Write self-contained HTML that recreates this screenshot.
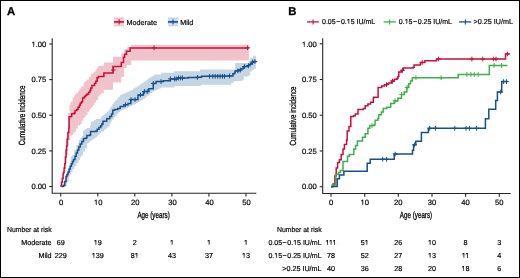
<!DOCTYPE html>
<html><head><meta charset="utf-8"><style>
html,body{margin:0;padding:0;background:#fff;}
svg{display:block;will-change:transform;} text{text-rendering:geometricPrecision;}
.t{font-family:'Liberation Sans',sans-serif;font-size:7.2px;fill:#000;stroke:#000;stroke-width:0.18px;}
.k{font-family:'Liberation Sans',sans-serif;font-size:7.6px;fill:#000;stroke:#000;stroke-width:0.2px;}
.c{font-family:'Liberation Sans',sans-serif;font-size:9px;fill:#000;stroke:#000;stroke-width:0.3px;}
.b{font-family:'Liberation Sans',sans-serif;font-size:11.3px;font-weight:bold;fill:#000;stroke:#000;stroke-width:0.3px;}
</style></head><body>
<svg width="520" height="278" viewBox="0 0 520 278">
<rect x="0.5" y="0.5" width="519" height="277" fill="none" stroke="#000" stroke-width="1"/>
<path d="M61.5,186.5H62.3V184.0H63.3V181.4H64.6V176.6H65.5V174.5H66.6V172.0H67.7V169.0H68.8V166.3H69.9V163.7H70.2V161.5H70.6V159.4H70.8V156.2H72.0V155.2H74.2V150.1H76.3V145.1H78.6V140.1H80.3V138.1H82.1V136.0H83.1V132.0H83.1V130.6H84.8V129.3H86.5V128.0H90.0V125.5H90.8V122.0H92.5V121.0H94.3V120.0H96.0V119.0H101.1V116.5H102.8V115.0H104.5V113.5H106.5V111.6H108.6V109.7H109.9V107.8H111.2V105.8H112.4V103.9H113.7V102.0H115.4V100.2H117.1V98.4H118.5V96.7H120.0V95.0H122.2V94.0H124.3V93.0H126.5V92.0H128.6V91.0H130.8V90.0H133.0V88.6H135.1V87.2H137.3V85.8H139.4V84.4H141.6V83.0H143.6V81.6H145.6V80.2H147.5V78.8H149.5V77.4H151.5V76.0H154.2V74.5H161.3V72.8H173.9V71.2H200.0V69.5H235.1V68.7H235.1V62.9H248.7V60.8H250.2V57.9H253.1V55.8H255.9V55.0L255.9,65.1V68.7H253.8V70.2H252.0V71.6H250.2V75.2H248.7V76.6H243.7V80.2H242.3V81.0H235.3V81.0H233.6V82.7H233.6V82.7H231.2V84.8H231.2V84.8H201.0V86.1H201.0V86.1H174.7V87.4H161.4V88.2H159.6V89.0H157.8V89.9H156.0V90.7H154.2V91.5H152.4V92.9H150.6V94.4H148.8V95.8H147.0V97.3H145.2V98.7H143.4V99.8H141.6V100.8H139.8V101.9H138.0V102.9H136.2V104.0H134.4V105.1H132.3V106.1H130.1V107.2H128.0V108.0H126.0V108.8H124.0V109.7H122.0V110.5H120.0V112.3H118.4V114.1H116.8V115.8H115.1V117.6H113.5V119.4H111.9V121.6H110.8V123.7H109.7V125.9H108.6V127.2H107.1V128.4H105.5V129.7H104.0V131.5H101.2V132.9H99.8V134.3H98.4V135.8H97.0V137.2H95.5V138.6H93.5V140.0H91.5V141.2H90.0V142.3H88.5V143.5H87.0V148.0H85.0V151.5H83.0V155.2H81.3V157.5H80.0V160.0H78.5V163.0H76.5V166.3H74.5V169.0H72.6V172.0H71.3V174.5H70.0V176.6H68.8V181.4H67.5V183.0H66.5V186.6H64.5Z" fill="#C6D5E3"/>
<path d="M60.7,186.5H61.0V184.0H62.0V178.0H63.0V172.0H64.2V166.0H64.8V158.0H65.5V150.0H66.5V141.0H67.5V132.0H68.2V124.0H68.2V113.0H69.5V105.2H70.4V101.7H72.6V97.8H73.6V96.3H74.7V94.7H75.7V93.2H78.0V91.0H79.5V88.6H81.3V86.5H83.7V82.6H85.2V81.0H86.7V79.5H88.9V77.0H91.0V73.9H92.8V72.6H94.5V71.3H95.8V69.4H97.1V67.6H98.4V65.7H103.9V64.0H103.9V62.5H113.0V62.5H113.0V56.8H121.2V56.8H121.2V53.8H124.2V53.8H124.2V49.1H127.2V49.1H127.2V46.9H131.1V46.9H131.1V44.7H248.9V44.7L248.9,60.3V60.6H131.2V65.0H131.2V65.0H126.8V68.3H126.8V68.3H124.0V77.0H123.7V77.0H121.2V82.6H121.2V82.6H113.0V88.0H113.0V89.7H112.8V89.7H103.7V93.2H103.7V93.2H100.7V94.9H99.4V96.6H98.1V100.0H96.0V102.6H94.5V105.2H92.8V106.9H91.5V108.6H90.2V110.3H88.9V112.1H87.6V114.7H85.9V116.4H84.6V118.1H83.3V120.7H81.6V124.0H79.9V125.5H77.9V128.5H76.1V131.5H74.4V133.2H73.1V135.0H71.8V135.8H70.1V140.0H69.0V146.0H68.0V155.0H66.5V163.0H65.5V172.0H64.0V180.0H62.5V186.5H61.5Z" fill="#F0C3CB"/>
<path d="M62.0,186.6H63.4V186.6H63.4V185.5H64.8V181.4H66.1V176.6H67.0V174.5H68.1V172.0H69.2V169.0H70.3V166.3H71.4V163.7H72.5V161.5H73.5V159.4H75.0V156.2H76.2V153.1H77.5V150.1H78.8V147.1H80.2V144.1H81.8V141.6H83.5V138.4H86.3V137.8H86.9V135.5H89.7V134.9H90.6V131.5H96.1V130.9H97.2V129.2H98.9V127.4H100.7V125.7H101.8V124.0H103.0V121.3H106.7V118.8H109.7V116.4H111.6V113.9H112.8V110.2H114.6V109.6H117.7V108.4H120.2V106.6H123.8V104.7H128.0V103.5H130.8V99.6H138.0V95.0H143.4V91.5H148.8V88.8H153.3V83.4H156.0V81.6H163.2V80.7H170.4V78.9H177.6V78.0H188.3V77.4H198.0V77.2H201.5V76.3H225.0V75.9H232.2V75.9H232.9V73.7H234.4V73.0H235.1V70.9H238.0V70.1H239.4V70.1H240.8V68.7H243.0V68.0H244.4V66.5H247.3V65.8H248.7V64.4H250.9V63.7H252.3V62.2H253.8V61.5H256.7V61.5" fill="none" stroke="#16508A" stroke-width="1.5"/>
<path d="M60.7,186.6H61.0V185.8H61.5V182.3H62.3V178.3H63.1V174.3H63.4V172.5H64.1V168.0H64.8V163.6H65.4V157.0H66.1V150.0H66.5V146.0H67.1V139.3H67.9V132.4H68.8V128.0H69.1V122.0H69.1V116.8H70.8V116.4H71.7V113.8H74.2V113.0H75.1V110.4H76.8V109.5H78.1V107.3H79.4V105.2H80.3V103.0H81.6V101.7H82.6V97.9H84.3V96.6H85.6V95.3H86.9V94.0H88.6V92.3H89.9V90.6H90.8V88.0H91.9V85.6H94.5V83.4H95.8V81.3H97.1V77.8H98.4V76.5H103.5V76.5H103.9V73.1H113.0V72.6H113.0V66.4H121.2V66.2H121.3V62.4H123.5V62.4H123.5V57.3H124.6V57.3H124.6V54.2H126.5V54.2H126.5V51.3H130.1V51.3H130.1V48.1H248.9V48.1" fill="none" stroke="#C6103A" stroke-width="1.5"/>
<path d="M125.5,102.3V107.1M123.1,104.7H127.9" stroke="#16508A" stroke-width="1.0" fill="none"/><path d="M131.0,97.2V102.0M128.6,99.6H133.4" stroke="#16508A" stroke-width="1.0" fill="none"/><path d="M135.0,97.2V102.0M132.6,99.6H137.4" stroke="#16508A" stroke-width="1.0" fill="none"/><path d="M140.5,92.6V97.4M138.1,95.0H142.9" stroke="#16508A" stroke-width="1.0" fill="none"/><path d="M144.6,89.1V93.9M142.2,91.5H147.0" stroke="#16508A" stroke-width="1.0" fill="none"/><path d="M147.3,89.1V93.9M144.9,91.5H149.7" stroke="#16508A" stroke-width="1.0" fill="none"/><path d="M153.3,81.0V85.8M150.9,83.4H155.7" stroke="#16508A" stroke-width="1.0" fill="none"/><path d="M161.0,79.2V84.0M158.6,81.6H163.4" stroke="#16508A" stroke-width="1.0" fill="none"/><path d="M170.4,76.5V81.3M168.0,78.9H172.8" stroke="#16508A" stroke-width="1.0" fill="none"/><path d="M174.6,76.5V81.3M172.2,78.9H177.0" stroke="#16508A" stroke-width="1.0" fill="none"/><path d="M176.2,76.5V81.3M173.8,78.9H178.6" stroke="#16508A" stroke-width="1.0" fill="none"/><path d="M178.5,75.6V80.4M176.1,78.0H180.9" stroke="#16508A" stroke-width="1.0" fill="none"/><path d="M180.7,75.6V80.4M178.3,78.0H183.1" stroke="#16508A" stroke-width="1.0" fill="none"/><path d="M182.5,75.6V80.4M180.1,78.0H184.9" stroke="#16508A" stroke-width="1.0" fill="none"/><path d="M197.4,75.0V79.8M195.0,77.4H199.8" stroke="#16508A" stroke-width="1.0" fill="none"/><path d="M209.6,73.9V78.7M207.2,76.3H212.0" stroke="#16508A" stroke-width="1.0" fill="none"/><path d="M212.8,73.9V78.7M210.4,76.3H215.2" stroke="#16508A" stroke-width="1.0" fill="none"/><path d="M215.2,73.9V78.7M212.8,76.3H217.6" stroke="#16508A" stroke-width="1.0" fill="none"/><path d="M217.7,73.9V78.7M215.3,76.3H220.1" stroke="#16508A" stroke-width="1.0" fill="none"/><path d="M220.1,73.9V78.7M217.7,76.3H222.5" stroke="#16508A" stroke-width="1.0" fill="none"/><path d="M222.5,73.9V78.7M220.1,76.3H224.9" stroke="#16508A" stroke-width="1.0" fill="none"/><path d="M224.5,73.9V78.7M222.1,76.3H226.9" stroke="#16508A" stroke-width="1.0" fill="none"/><path d="M229.5,73.5V78.3M227.1,75.9H231.9" stroke="#16508A" stroke-width="1.0" fill="none"/><path d="M237.9,68.5V73.3M235.5,70.9H240.3" stroke="#16508A" stroke-width="1.0" fill="none"/><path d="M240.3,67.7V72.5M237.9,70.1H242.7" stroke="#16508A" stroke-width="1.0" fill="none"/><path d="M244.4,64.1V68.9M242.0,66.5H246.8" stroke="#16508A" stroke-width="1.0" fill="none"/><path d="M248.4,63.4V68.2M246.0,65.8H250.8" stroke="#16508A" stroke-width="1.0" fill="none"/><path d="M252.4,59.8V64.6M250.0,62.2H254.8" stroke="#16508A" stroke-width="1.0" fill="none"/><path d="M254.9,59.1V63.9M252.5,61.5H257.3" stroke="#16508A" stroke-width="1.0" fill="none"/>
<path d="M154.1,45.4V50.2M151.7,47.8H156.5" stroke="#C6103A" stroke-width="1.0" fill="none"/><path d="M247.6,45.4V50.2M245.2,47.8H250.0" stroke="#C6103A" stroke-width="1.0" fill="none"/><path d="M113.4,67.6V72.4M111.0,70.0H115.8" stroke="#C6103A" stroke-width="1.0" fill="none"/>
<path d="M331.0,186.7H333.1V186.7H333.1V184.1H334.9V176.0H336.2V167.9H337.6V162.5H339.4V159.8H341.2V154.4H343.0V149.0H344.4V144.5H346.6V140.0H347.2V131.0H349.0V126.5H350.8V116.6H353.5V115.7H355.3V113.9H358.0V109.4H363.4V108.5H365.2V105.8H367.9V104.0H370.6V102.2H373.3V98.6H373.6V97.3H378.1V97.3H378.1V87.4H381.7V85.9H384.4V84.7H387.1V83.8H388.9V82.9H391.6V81.1H394.3V79.3H397.0V78.4H397.9V76.6H398.8V72.1H401.5V70.3H403.3V68.0H413.2V67.2H414.1V64.9H420.4V63.5H420.4V62.4H424.9V62.4H424.9V60.8H436.6V60.8H436.6V59.0H505.5V59.0H505.5V53.9H509.5V53.9" fill="none" stroke="#C6103A" stroke-width="1.5"/>
<path d="M331.0,186.7H332.2V186.7H332.2V185.0H335.8V183.2H335.8V174.2H338.5V172.4H340.3V170.6H343.0V167.0H343.0V161.6H347.5V161.6H347.5V156.2H349.3V156.2H349.3V154.4H353.8V154.4H353.8V149.0H355.6V149.0H355.6V145.4H357.4V145.4H357.4V140.9H362.5V140.9H362.5V137.3H365.2V133.7H367.9V128.3H369.7V125.6H374.2V124.7H375.1V120.2H377.8V118.4H378.7V114.8H381.4V112.1H383.2V108.5H386.8V107.2H390.5V107.2H390.7V103.6H394.3V100.9H397.9V98.2H401.5V94.6H404.2V91.9H406.9V87.4H408.7V83.8H410.5V81.1H412.3V77.7H458.2V77.7H458.2V74.5H489.3V74.5H489.3V65.4H507.5V65.4" fill="none" stroke="#3DB04B" stroke-width="1.5"/>
<path d="M331.3,186.6H337.2V186.6H337.2V178.7H339.4V178.7H339.4V175.1H343.9V175.1H343.9V171.3H367.2V171.3H367.2V163.3H370.2V163.3H370.2V159.3H394.2V159.3H394.2V154.1H412.5V154.1H412.5V150.2H413.6V150.2H413.6V144.8H415.8V144.8H415.8V141.2H421.4V141.2H421.4V132.4H428.4V132.4H428.4V128.3H485.4V128.3H485.4V118.7H488.8V118.7H488.8V109.2H495.7V109.2H495.7V100.4H497.4V100.4H497.4V92.0H501.7V92.0H501.7V81.6H507.5V81.6" fill="none" stroke="#16508A" stroke-width="1.5"/>
<path d="M422.2,60.0V64.8M419.8,62.4H424.6" stroke="#C6103A" stroke-width="1.0" fill="none"/><path d="M438.4,56.6V61.4M436.0,59.0H440.8" stroke="#C6103A" stroke-width="1.0" fill="none"/><path d="M471.9,56.6V61.4M469.5,59.0H474.3" stroke="#C6103A" stroke-width="1.0" fill="none"/><path d="M482.8,56.6V61.4M480.4,59.0H485.2" stroke="#C6103A" stroke-width="1.0" fill="none"/><path d="M493.7,56.6V61.4M491.3,59.0H496.1" stroke="#C6103A" stroke-width="1.0" fill="none"/><path d="M496.0,56.6V61.4M493.6,59.0H498.4" stroke="#C6103A" stroke-width="1.0" fill="none"/><path d="M507.5,51.5V56.3M505.1,53.9H509.9" stroke="#C6103A" stroke-width="1.0" fill="none"/><path d="M386.5,82.3V87.1M384.1,84.7H388.9" stroke="#C6103A" stroke-width="1.0" fill="none"/><path d="M392.5,78.7V83.5M390.1,81.1H394.9" stroke="#C6103A" stroke-width="1.0" fill="none"/><path d="M402.5,67.9V72.7M400.1,70.3H404.9" stroke="#C6103A" stroke-width="1.0" fill="none"/>
<path d="M415.9,75.3V80.1M413.5,77.7H418.3" stroke="#3DB04B" stroke-width="1.0" fill="none"/><path d="M441.1,75.3V80.1M438.7,77.7H443.5" stroke="#3DB04B" stroke-width="1.0" fill="none"/><path d="M466.9,72.1V76.9M464.5,74.5H469.3" stroke="#3DB04B" stroke-width="1.0" fill="none"/><path d="M470.9,72.1V76.9M468.5,74.5H473.3" stroke="#3DB04B" stroke-width="1.0" fill="none"/><path d="M474.3,72.1V76.9M471.9,74.5H476.7" stroke="#3DB04B" stroke-width="1.0" fill="none"/><path d="M478.2,72.1V76.9M475.8,74.5H480.6" stroke="#3DB04B" stroke-width="1.0" fill="none"/><path d="M494.0,63.0V67.8M491.6,65.4H496.4" stroke="#3DB04B" stroke-width="1.0" fill="none"/><path d="M501.6,63.0V67.8M499.2,65.4H504.0" stroke="#3DB04B" stroke-width="1.0" fill="none"/><path d="M395.0,98.5V103.3M392.6,100.9H397.4" stroke="#3DB04B" stroke-width="1.0" fill="none"/><path d="M401.5,92.2V97.0M399.1,94.6H403.9" stroke="#3DB04B" stroke-width="1.0" fill="none"/><path d="M407.0,85.0V89.8M404.6,87.4H409.4" stroke="#3DB04B" stroke-width="1.0" fill="none"/><path d="M372.0,123.2V128.0M369.6,125.6H374.4" stroke="#3DB04B" stroke-width="1.0" fill="none"/>
<path d="M382.7,156.9V161.7M380.3,159.3H385.1" stroke="#16508A" stroke-width="1.0" fill="none"/><path d="M386.6,156.9V161.7M384.2,159.3H389.0" stroke="#16508A" stroke-width="1.0" fill="none"/><path d="M395.2,151.7V156.5M392.8,154.1H397.6" stroke="#16508A" stroke-width="1.0" fill="none"/><path d="M414.6,142.4V147.2M412.2,144.8H417.0" stroke="#16508A" stroke-width="1.0" fill="none"/><path d="M429.7,125.9V130.7M427.3,128.3H432.1" stroke="#16508A" stroke-width="1.0" fill="none"/><path d="M435.4,125.9V130.7M433.0,128.3H437.8" stroke="#16508A" stroke-width="1.0" fill="none"/><path d="M454.8,125.9V130.7M452.4,128.3H457.2" stroke="#16508A" stroke-width="1.0" fill="none"/><path d="M466.1,125.9V130.7M463.7,128.3H468.5" stroke="#16508A" stroke-width="1.0" fill="none"/><path d="M469.4,125.9V130.7M467.0,128.3H471.8" stroke="#16508A" stroke-width="1.0" fill="none"/><path d="M476.6,125.9V130.7M474.2,128.3H479.0" stroke="#16508A" stroke-width="1.0" fill="none"/><path d="M500.7,89.6V94.4M498.3,92.0H503.1" stroke="#16508A" stroke-width="1.0" fill="none"/><path d="M503.6,79.2V84.0M501.2,81.6H506.0" stroke="#16508A" stroke-width="1.0" fill="none"/><path d="M506.5,79.2V84.0M504.1,81.6H508.9" stroke="#16508A" stroke-width="1.0" fill="none"/>
<path d="M52.2,38.2 V193.3 H256.3" fill="none" stroke="#262626" stroke-width="1.1"/>
<line x1="49.2" y1="44.0" x2="52.2" y2="44.0" stroke="#262626" stroke-width="1.1"/>
<text x="46.2" y="46.8" text-anchor="end" class="k">1.00</text>
<line x1="49.2" y1="79.6" x2="52.2" y2="79.6" stroke="#262626" stroke-width="1.1"/>
<text x="46.2" y="82.4" text-anchor="end" class="k">0.75</text>
<line x1="49.2" y1="115.2" x2="52.2" y2="115.2" stroke="#262626" stroke-width="1.1"/>
<text x="46.2" y="118.0" text-anchor="end" class="k">0.50</text>
<line x1="49.2" y1="150.9" x2="52.2" y2="150.9" stroke="#262626" stroke-width="1.1"/>
<text x="46.2" y="153.6" text-anchor="end" class="k">0.25</text>
<line x1="49.2" y1="186.5" x2="52.2" y2="186.5" stroke="#262626" stroke-width="1.1"/>
<text x="46.2" y="189.2" text-anchor="end" class="k">0.00</text>
<line x1="60.7" y1="193.3" x2="60.7" y2="196.5" stroke="#262626" stroke-width="1.1"/>
<text x="61.2" y="205.3" text-anchor="middle" class="k">0</text>
<line x1="97.8" y1="193.3" x2="97.8" y2="196.5" stroke="#262626" stroke-width="1.1"/>
<text x="98.3" y="205.3" text-anchor="middle" class="k">10</text>
<line x1="134.8" y1="193.3" x2="134.8" y2="196.5" stroke="#262626" stroke-width="1.1"/>
<text x="135.3" y="205.3" text-anchor="middle" class="k">20</text>
<line x1="171.9" y1="193.3" x2="171.9" y2="196.5" stroke="#262626" stroke-width="1.1"/>
<text x="172.4" y="205.3" text-anchor="middle" class="k">30</text>
<line x1="208.9" y1="193.3" x2="208.9" y2="196.5" stroke="#262626" stroke-width="1.1"/>
<text x="209.4" y="205.3" text-anchor="middle" class="k">40</text>
<line x1="246.0" y1="193.3" x2="246.0" y2="196.5" stroke="#262626" stroke-width="1.1"/>
<text x="246.5" y="205.3" text-anchor="middle" class="k">50</text>
<text x="153.6" y="217.8" text-anchor="middle" class="c" textLength="32.4" lengthAdjust="spacingAndGlyphs">Age (years)</text>
<text transform="translate(25.2,115.4) rotate(-90)" text-anchor="middle" class="c" textLength="59.8" lengthAdjust="spacingAndGlyphs">Cumulative incidence</text>
<text x="7.1" y="14.7" class="b">A</text>
<rect x="113.9" y="17.5" width="10.1" height="8.8" fill="#F0C3CB"/>
<rect x="113.9" y="19.0" width="10.1" height="0.8" fill="#fff" opacity="0.45"/><rect x="113.9" y="23.9" width="10.1" height="0.8" fill="#fff" opacity="0.45"/>
<line x1="113.9" y1="21.9" x2="124" y2="21.9" stroke="#C6103A" stroke-width="1.6"/>
<line x1="119.2" y1="19.2" x2="119.2" y2="24.6" stroke="#C6103A" stroke-width="1.1"/>
<text x="126.6" y="24.6" class="t">Moderate</text>
<rect x="167.9" y="17.5" width="10.1" height="8.8" fill="#C6D5E3"/>
<rect x="167.9" y="19.0" width="10.1" height="0.8" fill="#fff" opacity="0.45"/><rect x="167.9" y="23.9" width="10.1" height="0.8" fill="#fff" opacity="0.45"/>
<line x1="167.9" y1="21.9" x2="178.0" y2="21.9" stroke="#16508A" stroke-width="1.6"/>
<line x1="173.0" y1="19.2" x2="173.0" y2="24.6" stroke="#16508A" stroke-width="1.1"/>
<text x="180.2" y="24.6" class="t">Mild</text>
<text x="7" y="232.0" class="t" textLength="44.6" lengthAdjust="spacingAndGlyphs">Number at risk</text>
<text x="51.6" y="245.1" text-anchor="end" class="t">Moderate</text>
<text x="60.7" y="245.1" text-anchor="middle" class="t">69</text>
<text x="97.8" y="245.1" text-anchor="middle" class="t">19</text>
<text x="134.8" y="245.1" text-anchor="middle" class="t">2</text>
<text x="171.9" y="245.1" text-anchor="middle" class="t">1</text>
<text x="208.9" y="245.1" text-anchor="middle" class="t">1</text>
<text x="246.0" y="245.1" text-anchor="middle" class="t">1</text>
<text x="51.6" y="257.8" text-anchor="end" class="t">Mild</text>
<text x="60.7" y="257.8" text-anchor="middle" class="t">229</text>
<text x="97.8" y="257.8" text-anchor="middle" class="t">139</text>
<text x="134.8" y="257.8" text-anchor="middle" class="t">81</text>
<text x="171.9" y="257.8" text-anchor="middle" class="t">43</text>
<text x="208.9" y="257.8" text-anchor="middle" class="t">37</text>
<text x="246.0" y="257.8" text-anchor="middle" class="t">13</text>
<path d="M322.7,38.2 V193.5 H510.6" fill="none" stroke="#262626" stroke-width="1.1"/>
<line x1="319.7" y1="43.8" x2="322.7" y2="43.8" stroke="#262626" stroke-width="1.1"/>
<text x="316.8" y="46.5" text-anchor="end" class="k">1.00</text>
<line x1="319.7" y1="79.5" x2="322.7" y2="79.5" stroke="#262626" stroke-width="1.1"/>
<text x="316.8" y="82.3" text-anchor="end" class="k">0.75</text>
<line x1="319.7" y1="115.2" x2="322.7" y2="115.2" stroke="#262626" stroke-width="1.1"/>
<text x="316.8" y="118.0" text-anchor="end" class="k">0.50</text>
<line x1="319.7" y1="151.0" x2="322.7" y2="151.0" stroke="#262626" stroke-width="1.1"/>
<text x="316.8" y="153.7" text-anchor="end" class="k">0.25</text>
<line x1="319.7" y1="186.7" x2="322.7" y2="186.7" stroke="#262626" stroke-width="1.1"/>
<text x="316.8" y="189.4" text-anchor="end" class="k">0.00</text>
<line x1="331.0" y1="193.5" x2="331.0" y2="196.7" stroke="#262626" stroke-width="1.1"/>
<text x="331.0" y="205.3" text-anchor="middle" class="k">0</text>
<line x1="364.7" y1="193.5" x2="364.7" y2="196.7" stroke="#262626" stroke-width="1.1"/>
<text x="364.7" y="205.3" text-anchor="middle" class="k">10</text>
<line x1="398.3" y1="193.5" x2="398.3" y2="196.7" stroke="#262626" stroke-width="1.1"/>
<text x="398.3" y="205.3" text-anchor="middle" class="k">20</text>
<line x1="432.0" y1="193.5" x2="432.0" y2="196.7" stroke="#262626" stroke-width="1.1"/>
<text x="432.0" y="205.3" text-anchor="middle" class="k">30</text>
<line x1="465.6" y1="193.5" x2="465.6" y2="196.7" stroke="#262626" stroke-width="1.1"/>
<text x="465.6" y="205.3" text-anchor="middle" class="k">40</text>
<line x1="499.3" y1="193.5" x2="499.3" y2="196.7" stroke="#262626" stroke-width="1.1"/>
<text x="499.3" y="205.3" text-anchor="middle" class="k">50</text>
<text x="416" y="217.8" text-anchor="middle" class="c" textLength="32.3" lengthAdjust="spacingAndGlyphs">Age (years)</text>
<text transform="translate(295.8,116.05) rotate(-90)" text-anchor="middle" class="c" textLength="59.1" lengthAdjust="spacingAndGlyphs">Cumulative incidence</text>
<text x="288.2" y="15.1" class="b">B</text>
<line x1="307.1" y1="21.9" x2="318.8" y2="21.9" stroke="#C6103A" stroke-width="1.3"/>
<line x1="313.1" y1="19.4" x2="313.1" y2="24.4" stroke="#C6103A" stroke-width="1.1"/>
<text x="322.0" y="24.2" class="t" textLength="53.2" lengthAdjust="spacingAndGlyphs">0.05 − 0.15 IU/mL</text>
<line x1="383.7" y1="21.9" x2="395.8" y2="21.9" stroke="#3DB04B" stroke-width="1.3"/>
<line x1="389.6" y1="19.4" x2="389.6" y2="24.4" stroke="#3DB04B" stroke-width="1.1"/>
<text x="398.8" y="24.2" class="t" textLength="53.2" lengthAdjust="spacingAndGlyphs">0.15 − 0.25 IU/mL</text>
<line x1="459.1" y1="21.9" x2="471.2" y2="21.9" stroke="#16508A" stroke-width="1.3"/>
<line x1="465.4" y1="19.4" x2="465.4" y2="24.4" stroke="#16508A" stroke-width="1.1"/>
<text x="473.6" y="24.2" class="t">&gt;0.25 IU/mL</text>
<text x="277" y="232.0" class="t" textLength="44.6" lengthAdjust="spacingAndGlyphs">Number at risk</text>
<text x="321.6" y="245.1" text-anchor="end" class="t" textLength="53.2" lengthAdjust="spacingAndGlyphs">0.05 − 0.15 IU/mL</text>
<text x="331.0" y="245.1" text-anchor="middle" class="t">111</text>
<text x="364.7" y="245.1" text-anchor="middle" class="t">51</text>
<text x="398.3" y="245.1" text-anchor="middle" class="t">26</text>
<text x="432.0" y="245.1" text-anchor="middle" class="t">10</text>
<text x="465.6" y="245.1" text-anchor="middle" class="t">8</text>
<text x="499.3" y="245.1" text-anchor="middle" class="t">3</text>
<text x="321.6" y="258.1" text-anchor="end" class="t" textLength="53.2" lengthAdjust="spacingAndGlyphs">0.15 − 0.25 IU/mL</text>
<text x="331.0" y="258.1" text-anchor="middle" class="t">78</text>
<text x="364.7" y="258.1" text-anchor="middle" class="t">52</text>
<text x="398.3" y="258.1" text-anchor="middle" class="t">27</text>
<text x="432.0" y="258.1" text-anchor="middle" class="t">13</text>
<text x="465.6" y="258.1" text-anchor="middle" class="t">11</text>
<text x="499.3" y="258.1" text-anchor="middle" class="t">4</text>
<text x="321.6" y="270.6" text-anchor="end" class="t">&gt;0.25 IU/mL</text>
<text x="331.0" y="270.6" text-anchor="middle" class="t">40</text>
<text x="364.7" y="270.6" text-anchor="middle" class="t">36</text>
<text x="398.3" y="270.6" text-anchor="middle" class="t">28</text>
<text x="432.0" y="270.6" text-anchor="middle" class="t">20</text>
<text x="465.6" y="270.6" text-anchor="middle" class="t">18</text>
<text x="499.3" y="270.6" text-anchor="middle" class="t">6</text>
<g id="e1"><rect x="31.50" y="45.53" width="1.73" height="2.67" fill="#fff"/><rect x="34.10" y="45.53" width="1.67" height="2.67" fill="#fff"/><rect x="94.15" y="204.03" width="1.73" height="2.67" fill="#fff"/><rect x="96.76" y="204.03" width="1.67" height="2.67" fill="#fff"/><rect x="93.85" y="243.86" width="1.66" height="2.64" fill="#fff"/><rect x="96.35" y="243.86" width="1.60" height="2.64" fill="#fff"/><rect x="169.95" y="243.86" width="1.66" height="2.64" fill="#fff"/><rect x="172.45" y="243.86" width="1.60" height="2.64" fill="#fff"/><rect x="206.95" y="243.86" width="1.66" height="2.64" fill="#fff"/><rect x="209.45" y="243.86" width="1.60" height="2.64" fill="#fff"/><rect x="244.05" y="243.86" width="1.66" height="2.64" fill="#fff"/><rect x="246.55" y="243.86" width="1.60" height="2.64" fill="#fff"/><rect x="91.85" y="256.56" width="1.66" height="2.64" fill="#fff"/><rect x="94.35" y="256.56" width="1.60" height="2.64" fill="#fff"/><rect x="134.83" y="256.56" width="1.66" height="2.64" fill="#fff"/><rect x="137.33" y="256.56" width="1.60" height="2.64" fill="#fff"/><rect x="242.05" y="256.56" width="1.66" height="2.64" fill="#fff"/><rect x="244.55" y="256.56" width="1.60" height="2.64" fill="#fff"/><rect x="302.10" y="45.23" width="1.73" height="2.67" fill="#fff"/><rect x="304.70" y="45.23" width="1.67" height="2.67" fill="#fff"/><rect x="360.55" y="204.03" width="1.73" height="2.67" fill="#fff"/><rect x="363.16" y="204.03" width="1.67" height="2.67" fill="#fff"/><rect x="346.80" y="22.96" width="1.66" height="2.64" fill="#fff"/><rect x="349.30" y="22.96" width="1.60" height="2.64" fill="#fff"/><rect x="404.68" y="22.96" width="1.66" height="2.64" fill="#fff"/><rect x="407.18" y="22.96" width="1.60" height="2.64" fill="#fff"/><rect x="293.20" y="243.86" width="1.66" height="2.64" fill="#fff"/><rect x="295.70" y="243.86" width="1.60" height="2.64" fill="#fff"/><rect x="325.58" y="243.86" width="1.66" height="2.64" fill="#fff"/><rect x="328.08" y="243.86" width="1.60" height="2.64" fill="#fff"/><rect x="329.03" y="243.86" width="1.66" height="2.64" fill="#fff"/><rect x="331.53" y="243.86" width="1.60" height="2.64" fill="#fff"/><rect x="332.50" y="243.86" width="1.66" height="2.64" fill="#fff"/><rect x="335.00" y="243.86" width="1.60" height="2.64" fill="#fff"/><rect x="364.73" y="243.86" width="1.66" height="2.64" fill="#fff"/><rect x="367.23" y="243.86" width="1.60" height="2.64" fill="#fff"/><rect x="428.05" y="243.86" width="1.66" height="2.64" fill="#fff"/><rect x="430.55" y="243.86" width="1.60" height="2.64" fill="#fff"/><rect x="274.28" y="256.86" width="1.66" height="2.64" fill="#fff"/><rect x="276.78" y="256.86" width="1.60" height="2.64" fill="#fff"/><rect x="428.05" y="256.86" width="1.66" height="2.64" fill="#fff"/><rect x="430.55" y="256.86" width="1.60" height="2.64" fill="#fff"/><rect x="461.91" y="256.86" width="1.66" height="2.64" fill="#fff"/><rect x="464.41" y="256.86" width="1.60" height="2.64" fill="#fff"/><rect x="465.37" y="256.86" width="1.66" height="2.64" fill="#fff"/><rect x="467.87" y="256.86" width="1.60" height="2.64" fill="#fff"/><rect x="461.65" y="269.36" width="1.66" height="2.64" fill="#fff"/><rect x="464.15" y="269.36" width="1.60" height="2.64" fill="#fff"/></g>
</svg>
</body></html>
